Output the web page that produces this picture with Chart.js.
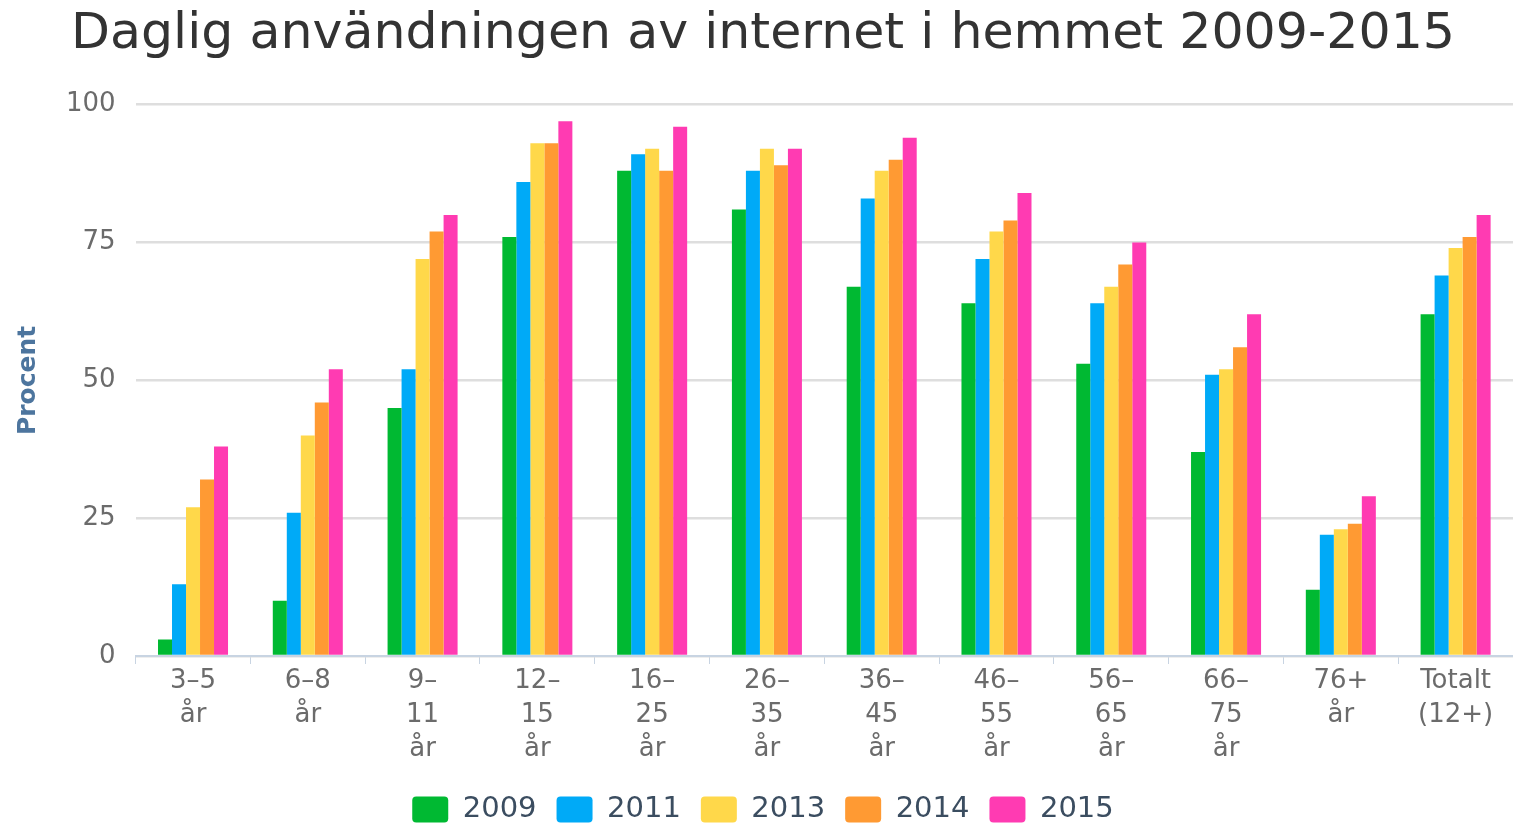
<!DOCTYPE html>
<html>
<head>
<meta charset="utf-8">
<script src="https://cdn.jsdelivr.net/npm/chart.js@4"></script>
<style>
  html, body { margin: 0; padding: 0; background: #fff; }
  #wrap { width: 1513px; height: 826px; }
</style>
</head>
<body>
<div id="wrap"><canvas id="chart"></canvas></div>
<script>
// age groups, multi-line labels like the original
const categories = [
  ['3–5', 'år'], ['6–8', 'år'], ['9–', '11', 'år'], ['12–', '15', 'år'],
  ['16–', '25', 'år'], ['26–', '35', 'år'], ['36–', '45', 'år'], ['46–', '55', 'år'],
  ['56–', '65', 'år'], ['66–', '75', 'år'], ['76+', 'år'], ['Totalt', '(12+)']
];
const years = ['2009', '2011', '2013', '2014', '2015'];
const values2009 = [3, 10, 45, 76, 88, 81, 67, 64, 53, 37, 12, 62];
const values2011 = [13, 26, 52, 86, 91, 88, 83, 72, 64, 51, 22, 69];
const values2013 = [27, 40, 72, 93, 92, 92, 88, 77, 67, 52, 23, 74];
const values2014 = [32, 46, 77, 93, 88, 89, 90, 79, 71, 56, 24, 76];
const values2015 = [38, 52, 80, 97, 96, 92, 94, 84, 75, 62, 29, 80];
const yTicks = [0, 25, 50, 75, 100];

const colors = ['#00b932', '#00aaf7', '#ffd84a', '#ff9a33', '#ff3bb2'];
const series = [values2009, values2011, values2013, values2014, values2015];

new Chart(document.getElementById('chart'), {
  type: 'bar',
  data: {
    labels: categories,
    datasets: series.map((vals, i) => ({
      label: years[i],
      data: vals,
      backgroundColor: colors[i],
      borderWidth: 0,
      categoryPercentage: 0.61,
      barPercentage: 1
    }))
  },
  options: {
    responsive: true,
    maintainAspectRatio: false,
    animation: false,
    layout: { padding: { left: 13, right: 0, top: 4, bottom: -8 } },
    plugins: {
      title: {
        display: true,
        text: 'Daglig användningen av internet i hemmet 2009-2015',
        color: '#333',
        font: { family: 'DejaVu Sans', size: 50.6, weight: 'normal' },
        padding: { top: 0, bottom: 40 }
      },
      legend: {
        position: 'bottom',
        labels: {
          color: '#3b4d60',
          font: { family: 'DejaVu Sans', size: 29 },
          boxWidth: 36,
          boxHeight: 26,
          useBorderRadius: true,
          borderRadius: 4,
          padding: 20
        }
      },
      tooltip: { enabled: false }
    },
    scales: {
      x: {
        afterFit: axis => { axis.height = 119; },
        grid: {
          offset: true,
          drawOnChartArea: false,
          drawTicks: true,
          tickLength: 8,
          color: '#c8d4e2'
        },
        border: { color: '#c8d4e2', width: 2 },
        ticks: {
          color: '#6b6b6b',
          font: { family: 'DejaVu Sans', size: 26, lineHeight: 1.31 },
          maxRotation: 0,
          autoSkip: false,
          padding: 0
        }
      },
      y: {
        min: 0,
        max: 100,
        afterBuildTicks: axis => { axis.ticks = yTicks.map(v => ({ value: v })); },
        grid: { color: '#dedede', lineWidth: 2.5, drawTicks: false },
        border: { display: false },
        ticks: {
          color: '#6b6b6b',
          font: { family: 'DejaVu Sans', size: 26 },
          padding: 20
        },
        title: {
          display: true,
          text: 'Procent',
          color: '#4d759e',
          font: { family: 'DejaVu Sans', size: 25, weight: 'bold' },
          padding: { top: 0, bottom: 3 }
        }
      }
    }
  }
});
</script>
</body>
</html>
